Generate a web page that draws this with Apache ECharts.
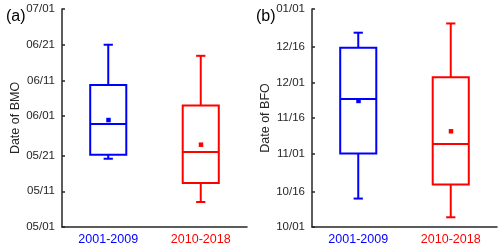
<!DOCTYPE html>
<html>
<head>
<meta charset="utf-8">
<script src="https://cdn.jsdelivr.net/npm/echarts@6/dist/echarts.min.js"></script>
<style>html,body{margin:0;padding:0;background:#fff}#c{width:500px;height:247px}</style>
</head>
<body>
<div id="c"></div>
<script>
// Categories
var categories = ['2001-2009', '2010-2018'];
var categoryColors = ['#0000ff', '#ff0000'];

// Panel (a): BMO, values in days after 05/01
var bmoTickDays = [0, 10, 20, 31, 41, 51, 61];
var bmoTickLabels = ['05/01', '05/11', '05/21', '06/01', '06/11', '06/21', '07/01'];
// [low whisker, Q1, median, Q3, high whisker, mean]
var bmo2001 = [19.1, 20.2, 28.8, 39.7, 51.0, 30.0];
var bmo2010 = [7.0, 12.3, 21.0, 34.0, 47.9, 23.1];

// Panel (b): BFO, values in days after 10/01
var bfoTickDays = [0, 15, 31, 46, 61, 76, 92];
var bfoTickLabels = ['10/01', '10/16', '11/01', '11/16', '12/01', '12/16', '01/01'];
var bfo2001 = [12.0, 31.0, 54.0, 75.6, 82.0, 53.3];
var bfo2010 = [4.1, 17.9, 35.0, 63.2, 85.9, 40.5];

var chart = echarts.init(document.getElementById('c'), null, {renderer: 'canvas'});
var axisColor = '#262626';
var font = 'Arial, "Liberation Sans", sans-serif';

function renderBox(params, api) {
  var ci = api.value(0);
  var color = categoryColors[ci];
  var band = api.size([1, 0])[0];
  var bw = band * 0.39, cw = band * 0.1;
  var low = api.coord([ci, api.value(1)]);
  var q1 = api.coord([ci, api.value(2)]);
  var med = api.coord([ci, api.value(3)]);
  var q3 = api.coord([ci, api.value(4)]);
  var high = api.coord([ci, api.value(5)]);
  var mean = api.coord([ci, api.value(6)]);
  var x = low[0];
  var st = {stroke: color, lineWidth: 2, fill: null};
  return {
    type: 'group',
    children: [
      {type: 'line', shape: {x1: x, y1: high[1], x2: x, y2: q3[1]}, style: st},
      {type: 'line', shape: {x1: x, y1: q1[1], x2: x, y2: low[1]}, style: st},
      {type: 'line', shape: {x1: x - cw / 2, y1: high[1], x2: x + cw / 2, y2: high[1]}, style: st},
      {type: 'line', shape: {x1: x - cw / 2, y1: low[1], x2: x + cw / 2, y2: low[1]}, style: st},
      {type: 'rect', shape: {x: x - bw / 2, y: q3[1], width: bw, height: q1[1] - q3[1]}, style: {stroke: color, lineWidth: 2, fill: 'rgba(0,0,0,0)'}},
      {type: 'line', shape: {x1: x - bw / 2, y1: med[1], x2: x + bw / 2, y2: med[1]}, style: st},
      {type: 'rect', shape: {x: mean[0] - 2, y: mean[1] - 2, width: 4.5, height: 4.5}, style: {fill: color, stroke: null}}
    ]
  };
}

function mkYAxis(gi, ticks, labels, maxV, name) {
  return {
    type: 'value', gridIndex: gi, min: 0, max: maxV,
    name: name, nameLocation: 'middle', nameGap: 38,
    nameTextStyle: {fontFamily: font, fontSize: 12.5, color: axisColor},
    axisLine: {show: true, lineStyle: {color: axisColor, width: 1.5}},
    axisTick: {show: true, inside: true, length: 3, customValues: ticks, lineStyle: {color: axisColor, width: 1.5}},
    axisLabel: {
      customValues: ticks, margin: 7, fontFamily: font, fontSize: 11.5, color: axisColor,
      formatter: function (v) { var i = ticks.indexOf(v); return i >= 0 ? labels[i] : ''; }
    },
    splitLine: {show: false}
  };
}

function mkXAxis(gi) {
  return {
    type: 'category', gridIndex: gi, data: categories,
    axisLine: {show: true, lineStyle: {color: axisColor, width: 1.5}},
    axisTick: {show: false},
    axisLabel: {
      margin: 6, fontFamily: font, fontSize: 12.5,
      color: function (v, i) { return categoryColors[i]; }
    }
  };
}

function mkData(a, b) {
  return [[0].concat(a), [1].concat(b)];
}

chart.setOption({
  animation: false,
  backgroundColor: '#fff',
  title: [
    {text: '(a)', left: 1, top: 4, textStyle: {fontFamily: font, fontSize: 16, fontWeight: 'normal', color: '#000'}},
    {text: '(b)', left: 251, top: 4, textStyle: {fontFamily: font, fontSize: 16, fontWeight: 'normal', color: '#000'}}
  ],
  grid: [
    {left: 62, right: 253, top: 9, bottom: 20},
    {left: 312, right: 3, top: 9, bottom: 20}
  ],
  xAxis: [mkXAxis(0), mkXAxis(1)],
  yAxis: [
    mkYAxis(0, bmoTickDays, bmoTickLabels, 61, 'Date of BMO'),
    mkYAxis(1, bfoTickDays, bfoTickLabels, 92, 'Date of BFO')
  ],
  series: [
    {type: 'custom', xAxisIndex: 0, yAxisIndex: 0, renderItem: renderBox, data: mkData(bmo2001, bmo2010),
     encode: {x: 0, y: [1, 2, 3, 4, 5, 6]}},
    {type: 'custom', xAxisIndex: 1, yAxisIndex: 1, renderItem: renderBox, data: mkData(bfo2001, bfo2010),
     encode: {x: 0, y: [1, 2, 3, 4, 5, 6]}}
  ]
});
</script>
</body>
</html>
